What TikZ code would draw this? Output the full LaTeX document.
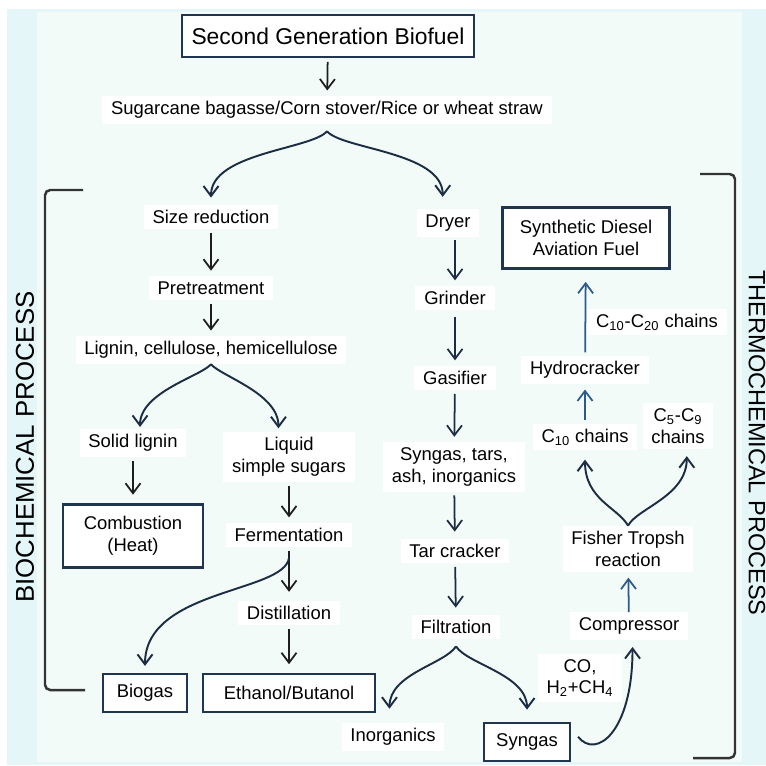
\documentclass[tikz,border=0pt]{standalone}
\usepackage{fontspec}
\setmainfont{Liberation Sans}
\usepackage{xcolor}
\usetikzlibrary{positioning,arrows.meta,calc}

\definecolor{panelbg}{HTML}{F2FBF7}
\definecolor{bandbg}{HTML}{E4F6F8}
\definecolor{ink}{HTML}{1E1E1E}
\definecolor{navy}{HTML}{1C2C42}
\definecolor{flowblue}{HTML}{2C5B8A}
\definecolor{boxline}{HTML}{1F3550}

\begin{document}
\begin{tikzpicture}[
          x=0.02cm, y=-0.02cm,
          lbl/.style={fill=white, inner xsep=5pt, inner ysep=3pt, align=center, font=\fontsize{10.5}{12.5}\selectfont},
          prod/.style={draw=boxline, line width=1.2pt, fill=white, align=center, font=\fontsize{10.5}{12.5}\selectfont},
          arr/.style={-{Straight Barb[length=2mm,width=3mm]}, line width=1pt, draw=ink, shorten >=3pt, shorten <=2pt},
          uparr/.style={arr, draw=flowblue},
          fork/.style={-{Straight Barb[length=2mm,width=3mm]}, line width=1.1pt, draw=navy},
          bracket/.style={line width=1.4pt, draw=black!80, rounded corners=3pt},
          side/.style={rotate=#1, inner sep=0pt}
      ]
        \fill[bandbg] (7,9) rectangle (766,765);
        \fill[panelbg] (37,12) rectangle (742,762);
        \useasboundingbox (0,0) rectangle (766,765);

        \node[prod, line width=1.6pt, minimum width=5.84cm, minimum height=0.84cm, font=\fontsize{13}{15}\selectfont] (title) at (328,36) {Second Generation Biofuel};
        \node[lbl] (feed) at (327,110) {Sugarcane bagasse/Corn stover/Rice or wheat straw};

        \node[lbl] (size) at (211,217) {Size reduction};
        \node[lbl] (pre) at (211,288) {Pretreatment};
        \node[lbl] (lig) at (211,350) {Lignin, cellulose, hemicellulose};
        \node[lbl] (solid) at (133,443) {Solid lignin};
        \node[lbl] (liquid) at (289,457) {Liquid\\simple sugars};
        \node[prod, minimum width=2.8cm, minimum height=1.26cm] (comb) at (133,536) {Combustion\\(Heat)};
        \node[lbl] (ferm) at (289,535) {Fermentation};
        \node[lbl] (dist) at (289,613) {Distillation};
        \node[prod, minimum width=1.68cm, minimum height=0.76cm] (biogas) at (145,693) {Biogas};
        \node[prod, minimum width=3.44cm, minimum height=0.76cm] (ethanol) at (289,693) {Ethanol/Butanol};

        \node[lbl] (dryer) at (448,223) {Dryer};
        \node[lbl] (grinder) at (455,298) {Grinder};
        \node[lbl] (gasifier) at (455,378) {Gasifier};
        \node[lbl] (rawgas) at (454,467) {Syngas, tars,\\ash, inorganics};
        \node[lbl] (tar) at (455,551) {Tar cracker};
        \node[lbl] (filt) at (456,627) {Filtration};
        \node[lbl] (inorg) at (393,737) {Inorganics};
        \node[prod, minimum width=1.72cm, minimum height=0.76cm] (syngas) at (527,742) {Syngas};
        \node[lbl] (cogas) at (580,678) {CO,\\H\textsubscript{2}+CH\textsubscript{4}};

        \node[lbl] (comp) at (629,626) {Compressor};
        \node[lbl] (ft) at (628,549) {Fisher Tropsh\\reaction};
        \node[lbl] (c10) at (585,437) {C\textsubscript{10} chains};
        \node[lbl] (c59) at (678,426) {C\textsubscript{5}-C\textsubscript{9}\\chains};
        \node[lbl] (hydro) at (585,370) {Hydrocracker};
        \node[lbl] (c1020) at (657,322) {C\textsubscript{10}-C\textsubscript{20} chains};
        \node[prod, minimum width=3.34cm, minimum height=1.22cm] (diesel) at (586,238) {Synthetic Diesel\\Aviation Fuel};

        \node[side=90, font=\fontsize{14.7}{16}\selectfont] (bio) at (25,447) {BIOCHEMICAL PROCESS};
        \node[side=-90, font=\fontsize{13.4}{15}\selectfont] (thermo) at (757,443) {THERMOCHEMICAL PROCESS};
        \draw[bracket] (83,190) -- (45,190) -- (45,690) -- (85,690);
        \draw[bracket] (700,174) -- (735,174) -- (735,758) -- (693,758);

        \draw[arr] (title) -- (feed);
        \draw[fork] ([yshift=-4pt]feed.south) .. controls +(-15,18) and +(0,-45) .. ([yshift=4pt]size.north);
        \draw[fork] ([yshift=-4pt]feed.south) .. controls +(15,18) and +(0,-45) .. ([xshift=-3pt,yshift=7pt]dryer.north);

        \draw[arr] (size) -- (pre);
        \draw[arr] (pre) -- (lig);
        \draw[fork] (lig.south) .. controls +(-10,12) and +(0,-35) .. ([xshift=4pt,yshift=1pt]solid.north);
        \draw[fork] (lig.south) .. controls +(10,12) and +(0,-35) .. ([xshift=-6pt,yshift=2pt]liquid.north);
        \draw[arr, shorten >=5pt] (solid) -- (comb);
        \draw[arr] (liquid) -- (ferm);
        \draw[arr, shorten >=5pt] (ferm) -- (dist);
        \draw[fork] ([yshift=-6pt]ferm.south) .. controls +(-5,35) and +(0,-77) .. ([yshift=4pt]biogas.north);
        \draw[arr, shorten >=5pt] (dist) -- (ethanol);

        \draw[arr, draw=navy] (grinder.north |- dryer.south) -- (grinder.north);
        \draw[arr, draw=navy, shorten <=4pt] (grinder) -- (gasifier);
        \draw[arr, draw=navy] (gasifier) -- (rawgas);
        \draw[arr, draw=navy, shorten >=4pt] (rawgas) -- (tar);
        \draw[arr, draw=navy, shorten >=4pt] (tar) -- (filt);
        \draw[fork] ([yshift=-4pt]filt.south) .. controls +(-12,18) and +(0,-35) .. ([xshift=-2pt,yshift=8pt]inorg.north);
        \draw[fork] ([yshift=-4pt]filt.south) .. controls +(12,18) and +(0,-35) .. ([yshift=7pt]syngas.north);

        \draw[fork] ([xshift=4pt,yshift=3pt]syngas.east) .. controls +(18,23) and +(0,85) .. ([xshift=2pt,yshift=-4pt]comp.south);
        \draw[uparr, shorten <=0pt] (comp) -- (ft);
        \draw[fork] (ft.north) .. controls +(-10,-18) and +(0,40) .. ([yshift=-5pt]c10.south);
        \draw[fork] (ft.north) .. controls +(10,-18) and +(0,40) .. ([xshift=5pt,yshift=-4pt]c59.south);
        \draw[uparr] (c10) -- (hydro);
        \draw[uparr, shorten >=7pt] (hydro) -- (diesel);
      \end{tikzpicture}
\end{document}
